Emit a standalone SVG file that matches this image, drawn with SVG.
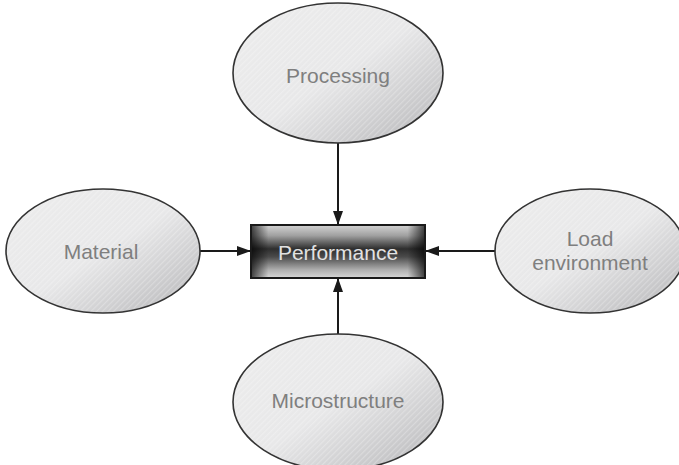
<svg xmlns="http://www.w3.org/2000/svg" width="679" height="465" viewBox="0 0 679 465">
<style>
.node ellipse.base{fill:url(#ellG);stroke:#333;stroke-width:1.6}
.node ellipse.hatch{fill:url(#hatch);stroke:none}
.lbl{font-family:"Liberation Sans",Arial,sans-serif;font-size:21px;fill:#7f7f7f;text-anchor:middle}
.plbl{font-family:"Liberation Sans",Arial,sans-serif;font-size:21px;fill:#e2e2e2;text-anchor:middle}
.conn line{stroke:#1a1a1a;stroke-width:2;marker-end:url(#arr)}
</style>
<defs>
<linearGradient id="ellG" x1="0" y1="0" x2="1" y2="1">
<stop offset="0" stop-color="#ececec"/>
<stop offset="0.5" stop-color="#e8e8e9"/>
<stop offset="0.85" stop-color="#c4c4c6"/>
<stop offset="1" stop-color="#a8a8aa"/>
</linearGradient>
<linearGradient id="hatchMask" x1="0" y1="0" x2="1" y2="1">
<stop offset="0.45" stop-color="#fff" stop-opacity="0"/>
<stop offset="1" stop-color="#fff" stop-opacity="0.35"/>
</linearGradient>
<pattern id="hatch" width="4" height="4" patternUnits="userSpaceOnUse" patternTransform="rotate(-45)">
<rect width="4" height="1.2" fill="#ffffff" fill-opacity="0.25"/>
</pattern>
<linearGradient id="boxV" x1="0" y1="0" x2="0" y2="1">
<stop offset="0" stop-color="#d4d4d4"/>
<stop offset="0.2" stop-color="#a0a0a0"/>
<stop offset="0.45" stop-color="#2e2e2e"/>
<stop offset="0.6" stop-color="#4a4a4a"/>
<stop offset="0.85" stop-color="#b0b0b0"/>
<stop offset="1" stop-color="#d8d8d8"/>
</linearGradient>
<linearGradient id="boxH" x1="0" y1="0" x2="1" y2="0">
<stop offset="0" stop-color="#000" stop-opacity="0.7"/>
<stop offset="0.1" stop-color="#000" stop-opacity="0"/>
<stop offset="0.9" stop-color="#000" stop-opacity="0"/>
<stop offset="1" stop-color="#000" stop-opacity="0.7"/>
</linearGradient>
<marker id="arr" markerWidth="14" markerHeight="10" refX="14" refY="5" orient="auto" markerUnits="userSpaceOnUse">
<path d="M0,0 L14,5 L0,10 Z" fill="#1a1a1a"/>
</marker>
</defs>
<rect width="679" height="465" fill="#fff"/>
<g class="conn">
<line x1="338" y1="143" x2="338" y2="225"/>
<line x1="199" y1="251" x2="251" y2="251"/>
<line x1="495" y1="251" x2="425" y2="251"/>
<line x1="338" y1="334" x2="338" y2="278"/>
</g>
<g id="processing" class="node">
<ellipse class="base" cx="338" cy="73" rx="105" ry="70"/>
<ellipse class="hatch" cx="338" cy="73" rx="104" ry="69"/>
<text class="lbl" x="338" y="83">Processing</text>
</g>
<g id="material" class="node">
<ellipse class="base" cx="103" cy="251" rx="97" ry="62"/>
<ellipse class="hatch" cx="103" cy="251" rx="96" ry="61"/>
<text class="lbl" x="101" y="259">Material</text>
</g>
<g id="load" class="node">
<ellipse class="base" cx="590" cy="251" rx="95" ry="62"/>
<ellipse class="hatch" cx="590" cy="251" rx="94" ry="61"/>
<text class="lbl" x="590" y="246">Load</text>
<text class="lbl" x="590" y="270">environment</text>
</g>
<g id="microstructure" class="node">
<ellipse class="base" cx="338" cy="402" rx="105" ry="68"/>
<ellipse class="hatch" cx="338" cy="402" rx="104" ry="67"/>
<text class="lbl" x="338" y="408">Microstructure</text>
</g>
<g id="performance" class="node">
<rect x="251" y="225" width="174" height="53" fill="url(#boxV)"/>
<rect x="251" y="225" width="174" height="53" fill="url(#boxH)" stroke="#1a1a1a" stroke-width="2"/>
<text class="plbl" x="338" y="260">Performance</text>
</g>
</svg>
